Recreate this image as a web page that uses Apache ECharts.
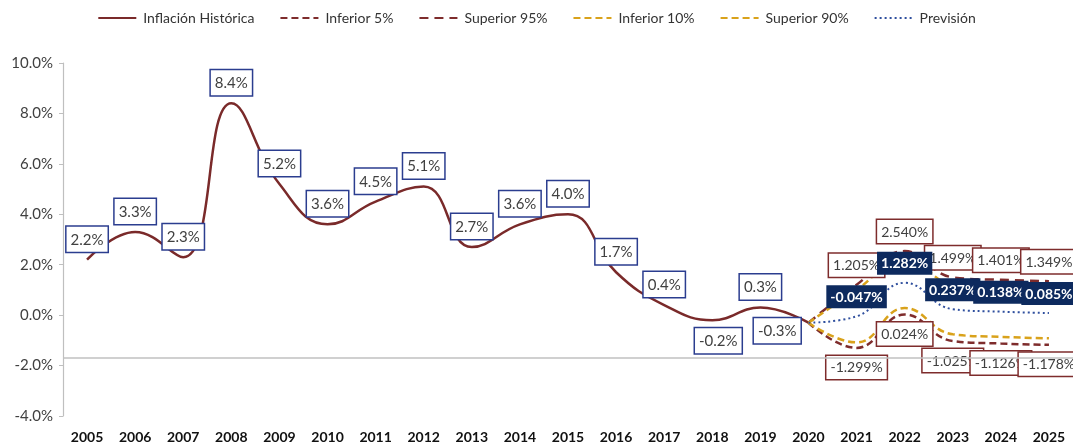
<!DOCTYPE html>
<html>
<head>
<meta charset="utf-8">
<title>Inflación</title>
<script src="https://cdn.jsdelivr.net/npm/echarts@6/dist/echarts.min.js"></script>
<style>
  html, body { margin: 0; padding: 0; background: #fff; }
  #chart { width: 1073px; height: 445px; }
</style>
</head>
<body>
<div id="chart"></div>
<script>
const years = ['2005', '2006', '2007', '2008', '2009', '2010', '2011', '2012', '2013', '2014',
  '2015', '2016', '2017', '2018', '2019', '2020', '2021', '2022', '2023', '2024', '2025'];

// inflación histórica 2005-2020
const historica = [2.2, 3.3, 2.3, 8.4, 5.2, 3.6, 4.5, 5.1, 2.7, 3.6, 4.0, 1.7, 0.4, -0.2, 0.3, -0.3];

// forecast 2020-2025 (2020 is the common starting point)
const prevision = [-0.3, -0.047, 1.282, 0.237, 0.138, 0.085];
const superior95 = [-0.3, 1.205, 2.540, 1.499, 1.401, 1.349];
const inferior5 = [-0.3, -1.299, 0.024, -1.025, -1.126, -1.178];
const superior90 = [-0.3, 1.0, 2.27, 1.22, 1.12, 1.07];
const inferior10 = [-0.3, -1.08, 0.28, -0.76, -0.86, -0.92];

const FONT = 'Lato, Carlito, Calibri, sans-serif';
const firstForecast = historica.length - 1;

// per-point label placement tweaks for the historic series
const histPlacement = {
  '2018': { position: 'bottom', offset: [6, 0] },
  '2020': { position: 'left', offset: [0, 8] }
};

function pad (values) {
  const out = new Array(firstForecast).fill(null);
  return out.concat(values);
}

const boxLabel = (border) => ({
  show: true,
  position: 'top',
  distance: 8,
  fontFamily: FONT,
  fontSize: 15,
  lineHeight: 18,
  color: '#404040',
  backgroundColor: '#fff',
  borderColor: border,
  borderWidth: 1.5,
  padding: [4, 4, 3, 4]
});

const histData = historica.map((v, i) => {
  const p = histPlacement[years[i]];
  return p ? { value: v, label: p } : v;
});

function forecastData (values, label) {
  return pad(values).map((v, i) => {
    if (v === null) return null;
    if (i === firstForecast) return { value: v, label: { show: false } };
    return { value: v, label: label };
  });
}

const fcLabelTop = { show: true, position: 'top' };
const fcLabelBottom = { show: true, position: 'bottom' };

const fmt3 = (p) => p.value.toFixed(3) + '%';

// invisible points so the labels still get drawn
const hiddenPoint = { symbol: 'circle', symbolSize: 0, showSymbol: true };

const chart = echarts.init(document.getElementById('chart'));
chart.setOption({
  animation: false,
  textStyle: { fontFamily: FONT },
  legend: {
    top: 6,
    left: 'center',
    itemWidth: 38,
    itemHeight: 12,
    itemGap: 25,
    itemStyle: { opacity: 0 },
    textStyle: { fontFamily: FONT, fontSize: 14, color: '#333', padding: [0, 0, 0, 2] },
    data: ['Inflación Histórica', 'Inferior 5%', 'Superior 95%', 'Inferior 10%', 'Superior 90%', 'Previsión']
  },
  grid: { left: 63, right: 0, top: 63, bottom: 29 },
  xAxis: {
    type: 'category',
    data: years,
    boundaryGap: true,
    axisLine: { show: false },
    axisTick: { show: false },
    axisLabel: { fontFamily: FONT, fontSize: 14, fontWeight: 'bold', color: '#111', margin: 14 }
  },
  yAxis: {
    type: 'value',
    min: -4,
    max: 10,
    interval: 2,
    splitLine: { show: false },
    axisLine: { show: true, lineStyle: { color: '#bfbfbf', width: 1.2 } },
    axisTick: { show: true, length: 4, lineStyle: { color: '#bfbfbf' } },
    axisLabel: {
      fontFamily: FONT, fontSize: 15, color: '#404040', margin: 10,
      formatter: (v) => v.toFixed(1) + '%'
    }
  },
  series: [
    Object.assign({
      name: 'Inflación Histórica',
      type: 'line',
      smooth: 0.45,
      z: 3,
      lineStyle: { color: '#7a2a2a', width: 2.5 },
      itemStyle: { color: '#7a2a2a' },
      label: Object.assign(boxLabel('#2b3d8f'), { formatter: (p) => p.value.toFixed(1) + '%' }),
      data: histData,
      markLine: {
        silent: true,
        symbol: 'none',
        label: { show: false },
        lineStyle: { color: '#c0c0c0', type: 'solid', width: 1.5 },
        data: [{ yAxis: -1.67 }]
      }
    }, hiddenPoint),
    Object.assign({
      name: 'Inferior 5%',
      type: 'line',
      smooth: 0.45,
      lineStyle: { color: '#7e2c2c', width: 2.5, type: [7, 4] },
      itemStyle: { color: '#7e2c2c' },
      label: Object.assign(boxLabel('#7e2c2c'), { position: 'bottom', fontSize: 14, lineHeight: 16, formatter: fmt3 }),
      data: forecastData(inferior5, fcLabelBottom)
    }, hiddenPoint),
    Object.assign({
      name: 'Superior 95%',
      type: 'line',
      smooth: 0.45,
      lineStyle: { color: '#7e2c2c', width: 2.5, type: [9, 6] },
      itemStyle: { color: '#7e2c2c' },
      label: Object.assign(boxLabel('#7e2c2c'), { fontSize: 14, lineHeight: 16, formatter: fmt3 }),
      data: forecastData(superior95, fcLabelTop)
    }, hiddenPoint),
    {
      name: 'Inferior 10%',
      type: 'line',
      smooth: 0.45,
      symbol: 'none',
      lineStyle: { color: '#d9a21b', width: 2.5, type: [7, 4] },
      itemStyle: { color: '#d9a21b' },
      data: pad(inferior10)
    },
    {
      name: 'Superior 90%',
      type: 'line',
      smooth: 0.45,
      symbol: 'none',
      lineStyle: { color: '#d9a21b', width: 2.5, type: [7, 4] },
      itemStyle: { color: '#d9a21b' },
      data: pad(superior90)
    },
    Object.assign({
      name: 'Previsión',
      type: 'line',
      smooth: 0.45,
      lineStyle: { color: '#2f4f9e', width: 2, type: [2, 3] },
      itemStyle: { color: '#2f4f9e' },
      label: {
        show: true,
        position: 'top',
        distance: 8,
        fontFamily: FONT,
        fontSize: 14,
        lineHeight: 16,
        fontWeight: 'bold',
        color: '#fff',
        backgroundColor: '#0d2a5e',
        padding: [4, 4, 3, 4],
        formatter: fmt3
      },
      data: forecastData(prevision, fcLabelTop)
    }, hiddenPoint)
  ]
});
</script>
</body>
</html>
